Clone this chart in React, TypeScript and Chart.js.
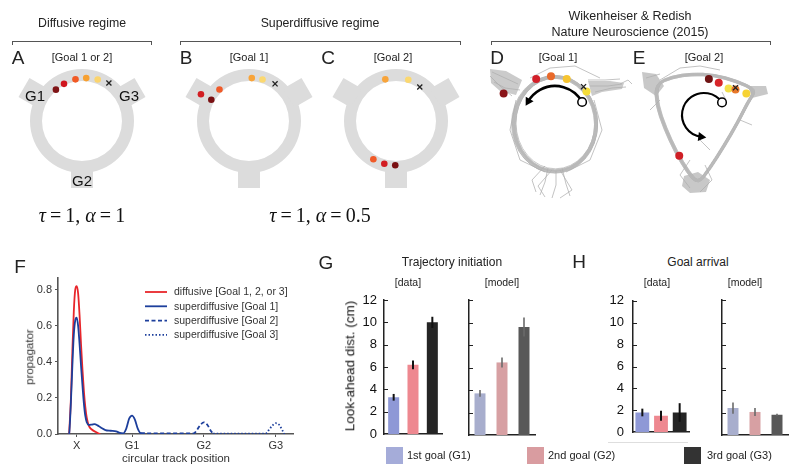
import React, { useEffect, useRef } from 'react';
import { Chart, registerables } from 'chart.js';
Chart.register(...registerables);

const SANS = "'Liberation Sans', Arial, Helvetica, sans-serif";
const SERIF = "'Liberation Serif', 'Times New Roman', serif";
const INK = '#222';

// ===================== Panel F data =====================
const F_TICK_VALUES = [0.23, 1, 2, 3];
const F_TICK_LABELS = ['X', 'G1', 'G2', 'G3'];
const F_Y_TICKS = [0, 0.2, 0.4, 0.6, 0.8];
const F_SERIES_LABELS = [
  'diffusive [Goal 1, 2, or 3]',
  'superdiffusive [Goal 1]',
  'superdiffusive [Goal 2]',
  'superdiffusive [Goal 3]',
];
const DIFF_X = [0.125, 0.15, 0.17, 0.19, 0.21, 0.23, 0.25, 0.27, 0.29, 0.31, 0.33, 0.35, 0.37, 0.4, 0.44, 0.49, 0.53, 0.56];
const DIFF_Y = [0, 0.2, 0.46, 0.68, 0.8, 0.82, 0.78, 0.66, 0.5, 0.36, 0.24, 0.15, 0.09, 0.045, 0.025, 0.012, 0.004, 0];
const SUP1_X = [0.125, 0.13, 0.15, 0.17, 0.19, 0.21, 0.23, 0.25, 0.27, 0.29, 0.31, 0.33, 0.35, 0.37, 0.4, 0.44, 0.48, 0.52, 0.57, 0.63, 0.7, 0.78, 0.83, 0.88, 0.92, 0.96, 1.0, 1.04, 1.08, 1.12, 1.18];
const SUP1_Y = [0, 0.02, 0.18, 0.38, 0.55, 0.63, 0.645, 0.6, 0.5, 0.38, 0.27, 0.17, 0.1, 0.065, 0.05, 0.052, 0.055, 0.048, 0.035, 0.022, 0.018, 0.015, 0.006, 0.004, 0.03, 0.085, 0.102, 0.08, 0.03, 0.005, 0.003];
const SUP2_X = [1.12, 1.3, 1.5, 1.7, 1.86, 1.9, 1.95, 2.0, 2.05, 2.1, 2.13];
const SUP2_Y = [0.003, 0.003, 0.003, 0.003, 0.004, 0.02, 0.05, 0.065, 0.05, 0.015, 0.002];
const SUP3_X = [2.13, 2.3, 2.5, 2.7, 2.86, 2.9, 2.95, 3.0, 3.05, 3.1, 3.12];
const SUP3_Y = [0.002, 0.002, 0.002, 0.002, 0.003, 0.02, 0.045, 0.06, 0.05, 0.015, 0];

// ===================== Panels G / H data =====================
const GOALS = ['1st goal (G1)', '2nd goal (G2)', '3rd goal (G3)'];
const BAR_Y_TICKS = [0, 2, 4, 6, 8, 10, 12];
const G_DATA = [3.3, 6.2, 10.0];
const G_DATA_ERR = [0.3, 0.4, 0.5];
const G_MODEL = [3.7, 6.45, 9.6];
const G_MODEL_ERR = [0.3, 0.45, 0.85];
const H_DATA = [1.8, 1.5, 1.8];
const H_DATA_ERR = [0.35, 0.45, 0.85];
const H_MODEL = [2.4, 2.05, 1.8];
const H_MODEL_ERR = [0.5, 0.35, 0.08];

// ===================== Illustration data (panels A–E) =====================
const A_DOT_ANGLES = [-133, -120, -104, -90, -75];
const A_DOT_RADII = [45, 45, 45, 45, 45];
const A_DOT_COLORS = ['#7f1416', '#d0161e', '#f15a24', '#f7a031', '#fbd46d'];
const A_CROSS = [-60, 46];
const B_DOT_ANGLES = [-151, -151, -134, -89, -75];
const B_DOT_RADII = [58, 46, 46, 45, 45];
const B_DOT_COLORS = ['#d21d22', '#7a1012', '#f05a28', '#f8a43a', '#fbd870'];
const B_CROSS = [-58, 46];
const C_DOT_ANGLES = [-104, -74, 120, 105, 91];
const C_DOT_RADII = [45, 45, 46, 46, 46];
const C_DOT_COLORS = ['#f8a43a', '#fbd870', '#f05a28', '#d21d22', '#7a1012'];
const C_CROSS = [-56, 43];
const D_DOT_DX = [17, 50, 65, 81, 101];
const D_DOT_DY = [27, 12, 9, 12, 25];
const D_DOT_COLORS = ['#8a1418', '#d2202a', '#e8692a', '#f6c431', '#f5dd3a'];
const D_CROSS = [98, 20];
const E_DOT_DX = [73, 83, 93, 100, 111, 43];
const E_DOT_DY = [12, 16, 22, 23, 27, 92];
const E_DOT_COLORS = ['#6f1414', '#d8262a', '#f3e04a', '#e8782a', '#f6d233', '#cf1f26'];
const E_CROSS = [100, 21];

const D_BOX = [488, 65];
const E_BOX = [640, 65];
const RING_CENTERS = [[82, 121], [249, 121], [396, 121]];

function rad(d: number) { return (d * Math.PI) / 180; }

function ringPoints(center: number[], angles: number[], radii: number[]) {
  return angles.map((a, i) => ({ x: center[0] + radii[i] * Math.cos(rad(a)), y: center[1] + radii[i] * Math.sin(rad(a)) }));
}

function drawRing(ctx: CanvasRenderingContext2D, cx: number, cy: number) {
  ctx.save();
  ctx.fillStyle = '#dcdcdc';
  ctx.beginPath();
  ctx.arc(cx, cy, 52, 0, Math.PI * 2);
  ctx.arc(cx, cy, 40, 0, Math.PI * 2, true);
  ctx.fill('evenodd');
  [210, -30, 90].forEach((a) => {
    ctx.save();
    ctx.translate(cx, cy);
    ctx.rotate(rad(a));
    ctx.fillRect(46, -11, 21, 22);
    ctx.restore();
  });
  ctx.restore();
}

function polyline(ctx: CanvasRenderingContext2D, pts: number[][]) {
  ctx.beginPath();
  ctx.moveTo(pts[0][0], pts[0][1]);
  for (let i = 1; i < pts.length; i++) ctx.lineTo(pts[i][0], pts[i][1]);
  ctx.stroke();
}

function fillPoly(ctx: CanvasRenderingContext2D, pts: number[][]) {
  ctx.beginPath();
  pts.forEach((p, i) => (i ? ctx.lineTo(p[0], p[1]) : ctx.moveTo(p[0], p[1])));
  ctx.closePath();
  ctx.fill();
}

function smoothClosed(ctx: CanvasRenderingContext2D, pts: number[][], dx: number, dy: number) {
  const n = pts.length;
  const mid = (a: number[], b: number[]) => [(a[0] + b[0]) / 2 + dx, (a[1] + b[1]) / 2 + dy];
  ctx.beginPath();
  const m0 = mid(pts[n - 1], pts[0]);
  ctx.moveTo(m0[0], m0[1]);
  for (let i = 0; i < n; i++) {
    const p = pts[i];
    const m = mid(p, pts[(i + 1) % n]);
    ctx.quadraticCurveTo(p[0] + dx, p[1] + dy, m[0], m[1]);
  }
  ctx.closePath();
  ctx.stroke();
}

function arcArrow(ctx: CanvasRenderingContext2D, cx: number, cy: number, r: number, a0: number, a1: number, lw: number) {
  ctx.save();
  ctx.strokeStyle = '#000';
  ctx.fillStyle = '#000';
  ctx.lineWidth = lw;
  ctx.beginPath();
  ctx.arc(cx, cy, r, rad(a0), rad(a1), true);
  ctx.stroke();
  const ex = cx + r * Math.cos(rad(a1));
  const ey = cy + r * Math.sin(rad(a1));
  const dx = Math.sin(rad(a1));
  const dy = -Math.cos(rad(a1));
  const px = -dy, py = dx;
  const tipX = ex + dx * 5, tipY = ey + dy * 5;
  const bx = ex - dx * 3, by = ey - dy * 3;
  ctx.beginPath();
  ctx.moveTo(tipX, tipY);
  ctx.lineTo(bx + px * 4.5, by + py * 4.5);
  ctx.lineTo(bx - px * 4.5, by - py * 4.5);
  ctx.closePath();
  ctx.fill();
  const sx = cx + r * Math.cos(rad(a0));
  const sy = cy + r * Math.sin(rad(a0));
  ctx.beginPath();
  ctx.arc(sx, sy, 4.3, 0, Math.PI * 2);
  ctx.fillStyle = '#fff';
  ctx.fill();
  ctx.lineWidth = 1.5;
  ctx.stroke();
  ctx.restore();
}

const D_JITTER = [[0, 0, 0], [0.5, -0.5, 1], [-0.5, 0.5, -1], [1, 0.5, -0.5], [-1, -0.5, 0.5], [0, 1, 1.5], [0.5, -1, -1.5], [-0.5, 0, 2]];
const E_LOOP = [[656, 84], [672, 77], [692, 74], [714, 75], [736, 81], [756, 90], [748, 102], [738, 122], [724, 146], [710, 168], [698, 184], [688, 172], [676, 152], [665, 128], [657, 105]];
const E_JITTER = [[0, 0], [1, 0.3], [-1, -0.3], [0.3, 1.2], [-0.3, -1.2], [1.5, -0.6], [-1.5, 0.6]];

function drawD(ctx: CanvasRenderingContext2D) {
  ctx.save();
  ctx.fillStyle = '#cbcbcb';
  fillPoly(ctx, [[490, 69], [506, 71], [522, 80], [516, 95], [500, 91], [491, 83]]);
  fillPoly(ctx, [[588, 81], [610, 81], [624, 83], [622, 89], [602, 92], [592, 96]]);
  ctx.lineWidth = 1;
  ctx.strokeStyle = 'rgba(165,165,165,0.6)';
  D_JITTER.forEach(([dx, dy, dr]) => {
    ctx.beginPath();
    ctx.ellipse(555 + dx, 124 + dy, 41 + dr, 47 + dr * 0.8, 0, 0, Math.PI * 2);
    ctx.stroke();
  });
  ctx.strokeStyle = 'rgba(185,185,185,0.9)';
  ctx.lineWidth = 3.5;
  ctx.beginPath();
  ctx.ellipse(555, 124, 41, 47, 0, 0, Math.PI * 2);
  ctx.stroke();
  ctx.lineWidth = 1;
  ctx.strokeStyle = 'rgba(175,175,175,0.75)';
  [
    [[518, 84], [505, 78], [492, 72]], [[520, 90], [505, 88], [494, 82]], [[512, 96], [500, 86], [490, 76]],
    [[590, 86], [608, 86], [622, 84]], [[595, 92], [612, 88], [626, 87]], [[588, 80], [605, 80], [620, 79]],
    [[548, 168], [545, 182], [540, 195]], [[556, 171], [556, 185], [552, 198]], [[562, 168], [566, 184], [570, 196]],
    [[552, 170], [538, 186], [545, 197]], [[560, 170], [572, 190], [560, 198]], [[545, 166], [532, 180], [536, 192]],
    [[516, 100], [510, 130], [520, 160], [545, 172]], [[594, 100], [602, 130], [590, 160], [566, 172]],
    [[530, 78], [550, 68], [575, 66], [600, 78]], [[620, 84], [628, 80], [632, 84]],
  ].forEach((pl) => polyline(ctx, pl));
  ctx.restore();
  arcArrow(ctx, 555, 117, 31, -29, -150, 2.6);
}

function drawE(ctx: CanvasRenderingContext2D) {
  ctx.save();
  ctx.fillStyle = '#c8c8c8';
  fillPoly(ctx, [[684, 176], [698, 172], [710, 180], [706, 192], [690, 193], [682, 186]]);
  fillPoly(ctx, [[642, 72], [656, 74], [664, 86], [656, 96], [644, 88]]);
  fillPoly(ctx, [[748, 86], [766, 86], [768, 94], [752, 98]]);
  ctx.lineWidth = 1;
  ctx.strokeStyle = 'rgba(165,165,165,0.6)';
  E_JITTER.forEach(([dx, dy]) => smoothClosed(ctx, E_LOOP, dx, dy));
  ctx.lineWidth = 3.5;
  ctx.strokeStyle = 'rgba(185,185,185,0.9)';
  smoothClosed(ctx, E_LOOP, 0, 0);
  ctx.lineWidth = 1;
  ctx.strokeStyle = 'rgba(175,175,175,0.75)';
  [
    [[660, 80], [680, 68], [700, 66], [720, 70]], [[646, 78], [660, 74]], [[700, 140], [710, 150]],
    [[690, 160], [680, 175], [690, 188]], [[705, 165], [712, 180], [700, 192]], [[660, 100], [650, 110]],
    [[740, 120], [752, 125]], [[722, 92], [726, 100]],
  ].forEach((pl) => polyline(ctx, pl));
  ctx.restore();
  arcArrow(ctx, 704, 115, 22, -35, -263, 2.1);
}

const illustrationPlugin = {
  id: 'illustration',
  beforeDatasetsDraw(chart: any) {
    const ctx = chart.ctx as CanvasRenderingContext2D;
    RING_CENTERS.forEach(([cx, cy]) => drawRing(ctx, cx, cy));
    drawD(ctx);
    drawE(ctx);
  },
};

function illustrationConfig(): any {
  const dots = [
    ...ringPoints(RING_CENTERS[0], A_DOT_ANGLES, A_DOT_RADII),
    ...ringPoints(RING_CENTERS[1], B_DOT_ANGLES, B_DOT_RADII),
    ...ringPoints(RING_CENTERS[2], C_DOT_ANGLES, C_DOT_RADII),
    ...D_DOT_DX.map((dx, i) => ({ x: D_BOX[0] + dx, y: D_BOX[1] + D_DOT_DY[i] })),
    ...E_DOT_DX.map((dx, i) => ({ x: E_BOX[0] + dx, y: E_BOX[1] + E_DOT_DY[i] })),
  ];
  const colors = [...A_DOT_COLORS, ...B_DOT_COLORS, ...C_DOT_COLORS, ...D_DOT_COLORS, ...E_DOT_COLORS];
  const radii = colors.map((_, i) => (i < 15 ? 3.3 : 4));
  const crosses = [
    ...ringPoints(RING_CENTERS[0], [A_CROSS[0]], [A_CROSS[1]]),
    ...ringPoints(RING_CENTERS[1], [B_CROSS[0]], [B_CROSS[1]]),
    ...ringPoints(RING_CENTERS[2], [C_CROSS[0]], [C_CROSS[1]]),
    { x: D_BOX[0] + D_CROSS[0], y: D_BOX[1] + D_CROSS[1] },
    { x: E_BOX[0] + E_CROSS[0], y: E_BOX[1] + E_CROSS[1] },
  ];
  return {
    type: 'scatter',
    data: {
      datasets: [
        { data: crosses, pointStyle: 'crossRot', pointRadius: 3.6, borderColor: '#222', pointBorderWidth: 1.3, pointBackgroundColor: '#222' },
        { data: dots, pointRadius: radii, pointBackgroundColor: colors, pointBorderWidth: 0, pointBorderColor: colors },
      ],
    },
    options: {
      animation: false,
      responsive: false,
      layout: { padding: 0 },
      plugins: { legend: { display: false }, tooltip: { enabled: false } },
      scales: {
        x: { type: 'linear', min: 0, max: 800, display: false },
        y: { type: 'linear', min: 0, max: 250, reverse: true, display: false },
      },
    },
    plugins: [illustrationPlugin],
  };
}

type Box = { x: number; y: number; w: number; h: number };
type Area = { l: number; t: number; r: number; b: number };
function frame(box: Box, area: Area) {
  return {
    padding: { left: 0, top: area.t - box.y, right: box.x + box.w - area.r, bottom: 0 },
    yW: area.l - box.x,
    xH: box.y + box.h - area.b,
  };
}

const RED = '#e8262b';
const BLUE = '#1d3f9c';

const fLegendPlugin = {
  id: 'fLegend',
  afterDatasetsDraw(chart: any) {
    const ctx = chart.ctx as CanvasRenderingContext2D;
    ctx.save();
    chart.data.datasets.forEach((ds: any, i: number) => {
      const y = 42 + i * 14.3;
      ctx.strokeStyle = ds.borderColor;
      ctx.lineWidth = 1.8;
      ctx.setLineDash(ds.borderDash || []);
      ctx.beginPath();
      ctx.moveTo(145, y);
      ctx.lineTo(167, y);
      ctx.stroke();
      ctx.setLineDash([]);
      ctx.fillStyle = '#333';
      ctx.font = `10.5px ${SANS}`;
      ctx.textBaseline = 'middle';
      ctx.textAlign = 'left';
      ctx.fillText(ds.label, 174, y + 0.5);
    });
    ctx.restore();
  },
};

const F_BOX: Box = { x: 0, y: 250, w: 310, h: 226 };
function fConfig(): any {
  const fr = frame(F_BOX, { l: 58, t: 278, r: 293, b: 434 });
  const pts = (xs: number[], ys: number[]) => xs.map((x, i) => ({ x, y: ys[i] }));
  const common = { pointRadius: 0, borderWidth: 1.8, cubicInterpolationMode: 'monotone', fill: false };
  return {
    type: 'line',
    data: {
      datasets: [
        { ...common, label: F_SERIES_LABELS[0], data: pts(DIFF_X, DIFF_Y), borderColor: RED, order: 2 },
        { ...common, label: F_SERIES_LABELS[1], data: pts(SUP1_X, SUP1_Y), borderColor: BLUE, order: 1 },
        { ...common, label: F_SERIES_LABELS[2], data: pts(SUP2_X, SUP2_Y), borderColor: BLUE, borderDash: [4, 2.5], order: 1 },
        { ...common, label: F_SERIES_LABELS[3], data: pts(SUP3_X, SUP3_Y), borderColor: BLUE, borderDash: [1.5, 2], order: 1 },
      ],
    },
    options: {
      animation: false,
      responsive: false,
      layout: { padding: fr.padding },
      plugins: { legend: { display: false }, tooltip: { enabled: false } },
      scales: {
        x: {
          type: 'linear', min: -0.03, max: 3.24,
          afterBuildTicks: (s: any) => { s.ticks = F_TICK_VALUES.map((v) => ({ value: v })); },
          ticks: { callback: (v: number) => F_TICK_LABELS[F_TICK_VALUES.indexOf(v)], font: { family: SANS, size: 11 }, color: '#333', padding: 2, maxRotation: 0, autoSkip: false },
          grid: { display: true, drawOnChartArea: false, drawTicks: true, tickLength: 3, color: '#555' },
          border: { display: true, color: '#555', width: 1.6 },
          afterFit: (s: any) => { s.height = fr.xH; },
        },
        y: {
          type: 'linear', min: 0, max: 0.865,
          afterBuildTicks: (s: any) => { s.ticks = F_Y_TICKS.map((v) => ({ value: v })); },
          ticks: { callback: (v: number) => v.toFixed(1), font: { family: SANS, size: 11 }, color: '#333', padding: 3 },
          grid: { display: true, drawOnChartArea: false, drawTicks: true, tickLength: 3, color: '#555' },
          border: { display: true, color: '#555', width: 1.6 },
          afterFit: (s: any) => { s.width = fr.yW; },
        },
      },
    },
    plugins: [fLegendPlugin],
  };
}

const errorBarPlugin = {
  id: 'errorBars',
  afterDatasetsDraw(chart: any, _args: any, opts: any) {
    const ctx = chart.ctx as CanvasRenderingContext2D;
    const meta = chart.getDatasetMeta(0);
    const ys = chart.scales.y;
    const vals = chart.data.datasets[0].data as number[];
    ctx.save();
    ctx.strokeStyle = opts.color;
    ctx.lineWidth = opts.width;
    meta.data.forEach((bar: any, i: number) => {
      const e = opts.errs[i];
      ctx.beginPath();
      ctx.moveTo(bar.x, ys.getPixelForValue(vals[i] - e));
      ctx.lineTo(bar.x, ys.getPixelForValue(vals[i] + e));
      ctx.stroke();
    });
    ctx.restore();
  },
};

const inwardTicksPlugin = {
  id: 'inTicks',
  afterDraw(chart: any) {
    const ctx = chart.ctx as CanvasRenderingContext2D;
    const ys = chart.scales.y;
    const x0 = chart.chartArea.left;
    ctx.save();
    ctx.strokeStyle = '#222';
    ctx.lineWidth = 1;
    BAR_Y_TICKS.forEach((v) => {
      if (v === 0) return;
      const py = Math.round(ys.getPixelForValue(v)) + 0.5;
      ctx.beginPath();
      ctx.moveTo(x0, py);
      ctx.lineTo(x0 + 4, py);
      ctx.stroke();
    });
    ctx.restore();
  },
};

const DATA_COLORS = ['#8e98d6', '#ee8890', '#252525'];
const MODEL_COLORS = ['#a8aecd', '#d7a0a3', '#585858'];
const LEGEND_COLORS = ['#a5acd9', '#d99ca0', '#333333'];

function barConfig(box: Box, area: Area, values: number[], errs: number[], colors: string[], isData: boolean, showLabels: boolean, barPct: number, labelPad: number): any {
  const fr = frame(box, area);
  return {
    type: 'bar',
    data: {
      labels: GOALS,
      datasets: [{ data: values, backgroundColor: colors, borderWidth: 0, barPercentage: barPct, categoryPercentage: 1 }],
    },
    options: {
      animation: false,
      responsive: false,
      layout: { padding: fr.padding },
      plugins: {
        legend: { display: false },
        tooltip: { enabled: false },
        errorBars: { errs, color: isData ? '#111' : '#6a6a6a', width: isData ? 2 : 1.6 },
      },
      scales: {
        x: {
          ticks: { display: false },
          grid: { display: false, drawTicks: false },
          border: { display: true, color: '#222', width: 1.5 },
          afterFit: (s: any) => { s.height = fr.xH; },
        },
        y: {
          min: 0, max: 12,
          afterBuildTicks: (s: any) => { s.ticks = BAR_Y_TICKS.map((v) => ({ value: v })); },
          ticks: { display: showLabels, font: { family: SANS, size: 13 }, color: '#111', padding: labelPad },
          grid: { display: false, drawTicks: false },
          border: { display: true, color: '#222', width: 1.5 },
          afterFit: (s: any) => { s.width = fr.yW; },
        },
      },
    },
    plugins: [errorBarPlugin, inwardTicksPlugin],
  };
}

const GD_BOX: Box = { x: 340, y: 284, w: 110, h: 165 };
const GM_BOX: Box = { x: 460, y: 284, w: 85, h: 165 };
const HD_BOX: Box = { x: 600, y: 284, w: 95, h: 165 };
const HM_BOX: Box = { x: 712, y: 284, w: 85, h: 165 };
const TOP_BOX: Box = { x: 0, y: 0, w: 800, h: 250 };

function ChartBox({ box, make }: { box: Box; make: () => any }) {
  const ref = useRef<HTMLCanvasElement>(null);
  useEffect(() => {
    const chart = new Chart(ref.current as HTMLCanvasElement, make());
    return () => chart.destroy();
  }, []);
  return (
    <div style={{ position: 'absolute', left: box.x, top: box.y, width: box.w, height: box.h }}>
      <canvas ref={ref} width={box.w} height={box.h} style={{ display: 'block' }} />
    </div>
  );
}

function Txt({ x, y, size, children, family = SANS, rot = 0, color = INK }: any) {
  return (
    <div
      style={{
        position: 'absolute', left: x, top: y, transform: `translate(-50%, -50%) rotate(${rot}deg)`,
        fontSize: size, fontFamily: family, color, whiteSpace: 'nowrap', lineHeight: 1,
      }}
    >
      {children}
    </div>
  );
}

function Bracket({ x1, x2, y }: { x1: number; x2: number; y: number }) {
  return (
    <div style={{ position: 'absolute', left: x1, top: y, width: x2 - x1, height: 4, borderTop: '1.5px solid #555', borderLeft: '1.5px solid #555', borderRight: '1.5px solid #555', boxSizing: 'border-box' }} />
  );
}

function Formula({ x, y, tau, alpha }: { x: number; y: number; tau: string; alpha: string }) {
  return (
    <Txt x={x} y={y} size={20} family={SERIF} color="#111">
      <i>τ</i>&thinsp;=&thinsp;{tau}, <i>α</i>&thinsp;=&thinsp;{alpha}
    </Txt>
  );
}

export default function App() {
  return (
    <div style={{ position: 'absolute', left: 0, top: 0, width: 800, height: 476, background: '#fff', overflow: 'hidden' }}>
      <ChartBox box={TOP_BOX} make={illustrationConfig} />
      <ChartBox box={F_BOX} make={fConfig} />
      <ChartBox box={GD_BOX} make={() => barConfig(GD_BOX, { l: 384, t: 300, r: 442, b: 435 }, G_DATA, G_DATA_ERR, DATA_COLORS, true, true, 0.57, 7)} />
      <ChartBox box={GM_BOX} make={() => barConfig(GM_BOX, { l: 469, t: 300, r: 535, b: 435 }, G_MODEL, G_MODEL_ERR, MODEL_COLORS, false, false, 0.5, 0)} />
      <ChartBox box={HD_BOX} make={() => barConfig(HD_BOX, { l: 633, t: 300, r: 689, b: 435 }, H_DATA, H_DATA_ERR, DATA_COLORS, true, true, 0.74, 9)} />
      <ChartBox box={HM_BOX} make={() => barConfig(HM_BOX, { l: 722, t: 300, r: 788, b: 435 }, H_MODEL, H_MODEL_ERR, MODEL_COLORS, false, false, 0.5, 0)} />

      <Txt x={82} y={23} size={12.3}>Diffusive regime</Txt>
      <Txt x={320} y={23} size={12.3}>Superdiffusive regime</Txt>
      <Txt x={630} y={16} size={12.5}>Wikenheiser &amp; Redish</Txt>
      <Txt x={630} y={32} size={12.5}>Nature Neuroscience (2015)</Txt>
      <Bracket x1={12} x2={152} y={41} />
      <Bracket x1={180} x2={461} y={41} />
      <Bracket x1={491} x2={771} y={41} />

      <Txt x={18} y={57} size={19}>A</Txt>
      <Txt x={186} y={57} size={19}>B</Txt>
      <Txt x={328} y={57} size={19}>C</Txt>
      <Txt x={497} y={57} size={19}>D</Txt>
      <Txt x={639} y={57} size={19}>E</Txt>
      <Txt x={82} y={57} size={11}>[Goal 1 or 2]</Txt>
      <Txt x={249} y={57} size={11}>[Goal 1]</Txt>
      <Txt x={393} y={57} size={11}>[Goal 2]</Txt>
      <Txt x={558} y={57} size={11}>[Goal 1]</Txt>
      <Txt x={704} y={57} size={11}>[Goal 2]</Txt>
      <Txt x={35} y={95} size={15} color="#111">G1</Txt>
      <Txt x={129} y={95} size={15} color="#111">G3</Txt>
      <Txt x={82} y={180} size={15} color="#111">G2</Txt>
      <Formula x={82} y={215} tau="1" alpha="1" />
      <Formula x={320} y={215} tau="1" alpha="0.5" />

      <Txt x={20} y={266} size={19}>F</Txt>
      <Txt x={30} y={357} size={11.5} rot={-90} color="#333">propagator</Txt>
      <Txt x={176} y={459} size={11.5} color="#333">circular track position</Txt>

      <Txt x={326} y={262} size={19}>G</Txt>
      <Txt x={452} y={262} size={12}>Trajectory initiation</Txt>
      <Txt x={408} y={282} size={10.5}>[data]</Txt>
      <Txt x={502} y={282} size={10.5}>[model]</Txt>
      <Txt x={350} y={366} size={13.5} rot={-90} color="#111">Look-ahead dist. (cm)</Txt>
      <Txt x={579} y={261} size={19}>H</Txt>
      <Txt x={698} y={262} size={12}>Goal arrival</Txt>
      <Txt x={657} y={282} size={10.5}>[data]</Txt>
      <Txt x={745} y={282} size={10.5}>[model]</Txt>
      <div style={{ position: 'absolute', left: 608, top: 442, width: 80, height: 1, background: '#dedede' }} />

      {GOALS.map((g, i) => {
        const sx = [386, 527, 684][i];
        const tx = [407, 548, 707][i];
        return (
          <React.Fragment key={g}>
            <div style={{ position: 'absolute', left: sx, top: 447, width: 17, height: 17, background: LEGEND_COLORS[i] }} />
            <div style={{ position: 'absolute', left: tx, top: 455, transform: 'translateY(-50%)', fontSize: 11, fontFamily: SANS, color: '#222', whiteSpace: 'nowrap', lineHeight: 1 }}>{g}</div>
          </React.Fragment>
        );
      })}
    </div>
  );
}
